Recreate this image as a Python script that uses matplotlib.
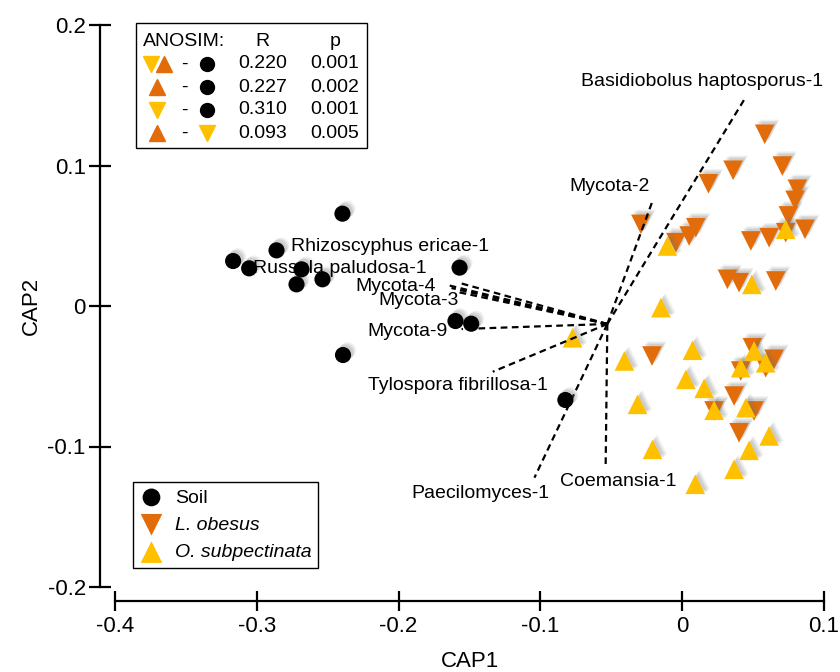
import matplotlib
matplotlib.use('Agg')
import matplotlib.pyplot as plt
import matplotlib.patheffects as pe
import matplotlib.transforms as mtransforms
from matplotlib.lines import Line2D
from matplotlib.patches import Rectangle
from matplotlib.ticker import FuncFormatter

plt.rcParams['font.family'] = ['Liberation Sans', 'DejaVu Sans']
plt.rcParams['axes.unicode_minus'] = False

ORANGE = '#E36C0A'
YELLOW = '#FFC000'

# CAP scores per group
soil_x = [-0.2396, -0.2861, -0.3167, -0.3054, -0.2685, -0.2720, -0.2537,
          -0.1570, -0.1599, -0.1488, -0.2392, -0.0824]
soil_y = [0.0657, 0.0396, 0.0320, 0.0268, 0.0261, 0.0154, 0.0190,
          0.0273, -0.0107, -0.0126, -0.0349, -0.0669]

obesus_x = [0.0582, 0.0359, 0.0706, 0.0185, 0.0812, 0.0796, -0.0291, 0.0749,
            0.0096, 0.0049, -0.0044, 0.0484, 0.0613, 0.0730, 0.0866, 0.0319,
            0.0401, 0.0660, -0.0213, 0.0495, 0.0648, 0.0413, 0.0589, 0.0366,
            0.0507, 0.0225, 0.0401]
obesus_y = [0.1222, 0.0966, 0.0996, 0.0870, 0.0831, 0.0752, 0.0581, 0.0641,
            0.0557, 0.0498, 0.0451, 0.0463, 0.0486, 0.0522, 0.0546, 0.0190,
            0.0166, 0.0178, -0.0356, -0.0297, -0.0379, -0.0463, -0.0439,
            -0.0641, -0.0747, -0.0747, -0.0902]

subpec_x = [-0.0104, 0.0730, 0.0491, -0.0150, -0.0773, -0.0408, 0.0073, 0.0507,
            0.0589, 0.0413, 0.0026, 0.0155, -0.0315, 0.0225, 0.0449, 0.0613,
            -0.0209, 0.0472, 0.0366, 0.0092]
subpec_y = [0.0427, 0.0546, 0.0154, -0.0012, -0.0226, -0.0391, -0.0315, -0.0320,
            -0.0404, -0.0439, -0.0522, -0.0586, -0.0700, -0.0742, -0.0724,
            -0.0925, -0.1020, -0.1027, -0.1162, -0.1269]

# biplot vectors (species correlations)
vec_origin = (-0.0528, -0.0128)
vec_names = ['Basidiobolus haptosporus-1', 'Mycota-2', 'Rhizoscyphus ericae-1',
             'Russula paludosa-1', 'Mycota-4', 'Mycota-3', 'Mycota-9',
             'Tylospora fibrillosa-1', 'Paecilomyces-1', 'Coemansia-1']
vec_end_x = [0.0444, -0.0204, -0.1570, -0.1627, -0.1655, -0.1585, -0.1556,
             -0.1336, -0.1042, -0.0540]
vec_end_y = [0.1480, 0.0762, 0.0164, 0.0128, 0.0149, 0.0100, -0.0164,
             -0.0468, -0.1222, -0.1151]
vec_label_x = [0.0141, -0.0514, -0.2063, -0.2415, -0.2018, -0.1859, -0.1937,
               -0.1585, -0.1423, -0.0451]
vec_label_y = [0.1600, 0.0847, 0.0427, 0.0270, 0.0142, 0.0036, -0.0178,
               -0.0569, -0.1331, -0.1246]

# ANOSIM table
anosim_left = [['B', 'A'], ['A'], ['B'], ['A']]
anosim_right = ['S', 'S', 'S', 'B']
anosim_r = ['0.220', '0.227', '0.310', '0.093']
anosim_p = ['0.001', '0.002', '0.001', '0.005']

xticks = [-0.4, -0.3, -0.2, -0.1, 0, 0.1]
yticks = [-0.2, -0.1, 0, 0.1, 0.2]


def shadow():
    # soft-ish drop shadow, up and to the right
    return [pe.SimplePatchShadow(offset=(1.5, 1.5), shadow_rgbFace='0.45', alpha=0.15),
            pe.SimplePatchShadow(offset=(2.5, 2.5), shadow_rgbFace='0.45', alpha=0.15),
            pe.SimplePatchShadow(offset=(3.5, 3.5), shadow_rgbFace='0.45', alpha=0.1),
            pe.Normal()]


fig = plt.figure(figsize=(8.4, 6.72), dpi=100)
ax = fig.add_axes([115 / 840, 1 - 587 / 672, 709 / 840, 562 / 672])

h_obe = ax.scatter(obesus_x, obesus_y, marker='v', s=200, color=ORANGE, edgecolors='none',
                   zorder=2, path_effects=shadow())
h_sub = ax.scatter(subpec_x, subpec_y, marker='^', s=200, color=YELLOW, edgecolors='none',
                   zorder=2.1, path_effects=shadow())

for ex, ey in zip(vec_end_x, vec_end_y):
    ax.plot([vec_origin[0], ex], [vec_origin[1], ey], color='black', lw=1.6,
            ls=(0, (3, 2)), zorder=3)

h_soil = ax.scatter(soil_x, soil_y, marker='o', s=135, color='black', edgecolors='none',
                    zorder=4, path_effects=shadow())

for name, lx, ly in zip(vec_names, vec_label_x, vec_label_y):
    ax.text(lx, ly, name, ha='center', va='center', fontsize=14, zorder=5)

ax.set_xlim(-0.4, 0.1)
ax.set_ylim(-0.2, 0.2)
ax.set_xticks(xticks)
ax.set_yticks(yticks)
fmt = FuncFormatter(lambda v, p: '%g' % round(v, 3))
ax.xaxis.set_major_formatter(fmt)
ax.yaxis.set_major_formatter(fmt)

for side in ['top', 'right']:
    ax.spines[side].set_visible(False)
ax.spines['left'].set_position(('outward', 11))
ax.spines['bottom'].set_position(('outward', 10))
ax.spines['left'].set_linewidth(1.6)
ax.spines['bottom'].set_linewidth(1.6)
ax.tick_params(axis='x', direction='inout', length=14, width=1.6, labelsize=16, pad=4)
ax.tick_params(axis='y', direction='inout', length=16, width=1.6, labelsize=16, pad=2)
ax.set_xlabel('CAP1', fontsize=16, labelpad=10)
ax.set_ylabel('CAP2', fontsize=16, labelpad=4)

# group legend
leg = ax.legend([h_soil, h_obe, h_sub], ['Soil', 'L. obesus', 'O. subpectinata'],
                loc='lower left', bbox_to_anchor=(133 / 840, 1 - 568 / 672),
                bbox_transform=fig.transFigure, borderaxespad=0, fontsize=14,
                fancybox=False, edgecolor='black', framealpha=1, labelspacing=0.5,
                handletextpad=0.6, handlelength=1.2, borderpad=0.35, markerscale=1.1)
leg.get_frame().set_linewidth(1.0)
for t in leg.get_texts()[1:]:
    t.set_style('italic')
for lh in leg.legend_handles:
    lh.set_path_effects([])

# ANOSIM box, pixel coordinates from top-left
T = mtransforms.Affine2D().scale(1 / 840, -1 / 672).translate(0, 1) + fig.transFigure
fig.add_artist(Rectangle((136, 23), 231, 125, transform=T, fill=True, facecolor='white',
                         edgecolor='black', lw=1.0, zorder=6))
fig.text(143, 41, 'ANOSIM:', transform=T, fontsize=14, va='center', ha='left', zorder=7)
fig.text(262, 41, 'R', transform=T, fontsize=14, va='center', ha='center', zorder=7)
fig.text(335, 41, 'p', transform=T, fontsize=14, va='center', ha='center', zorder=7)
sym = {'A': ('^', ORANGE, 12), 'B': ('v', YELLOW, 12), 'S': ('o', 'black', 10)}
for i in range(len(anosim_r)):
    yy = 64 + 23 * i
    left = anosim_left[i]
    xs = [151, 164] if len(left) == 2 else [157]
    for xx, k in zip(xs, left):
        m, c, ms = sym[k]
        fig.add_artist(Line2D([xx], [yy], marker=m, color=c, ms=ms, ls='none',
                              transform=T, zorder=8))
    fig.text(184, yy, '-', transform=T, fontsize=14, va='center', ha='center', zorder=7)
    m, c, ms = sym[anosim_right[i]]
    fig.add_artist(Line2D([207], [yy], marker=m, color=c, ms=ms, ls='none',
                          transform=T, zorder=8))
    fig.text(263, yy, anosim_r[i], transform=T, fontsize=14, va='center', ha='center', zorder=7)
    fig.text(335, yy, anosim_p[i], transform=T, fontsize=14, va='center', ha='center', zorder=7)

fig.savefig('out.png', dpi=100)
